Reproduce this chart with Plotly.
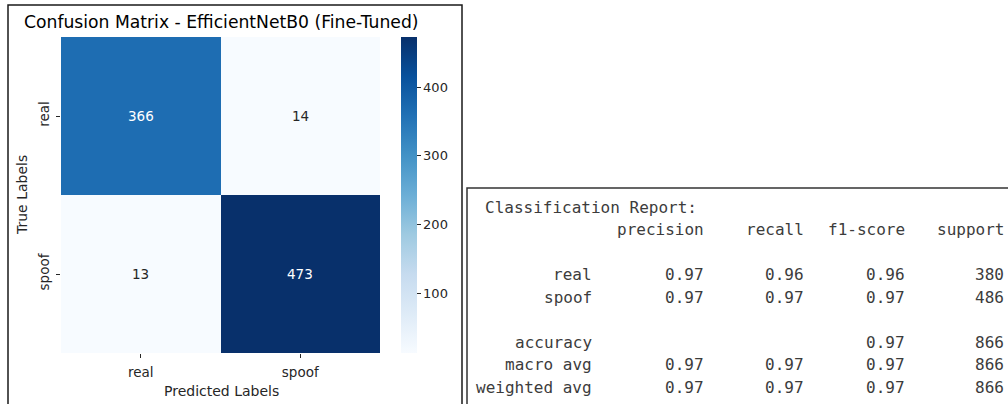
import plotly.graph_objects as go

# ---------------- data ----------------
classes = ["real", "spoof"]
cm_real_row = [366, 14]
cm_spoof_row = [13, 473]
cbar_ticks = [100, 200, 300, 400]

report_title = "Classification Report:"
report_headers = ["precision", "recall", "f1-score", "support"]
report_rows = ["real", "spoof", "accuracy", "macro avg", "weighted avg"]
precision = [0.97, 0.97, None, 0.97, 0.97]
recall = [0.96, 0.97, None, 0.97, 0.97]
f1_score = [0.96, 0.97, 0.97, 0.97, 0.97]
support = [380, 486, 866, 866, 866]

# ---------------- layout helpers ----------------
W, H = 1008, 404
def px(x):
    return x / W
def py(y):
    return 1 - y / H

blues = [
    [0.0, "#f7fbff"], [0.125, "#deebf7"], [0.25, "#c6dbef"], [0.375, "#9ecae1"],
    [0.5, "#6baed6"], [0.625, "#4292c6"], [0.75, "#2171b5"], [0.875, "#08519c"],
    [1.0, "#08306b"],
]

z = [cm_real_row, cm_spoof_row]
zmin = min(min(r) for r in z)
zmax = max(max(r) for r in z)

FONT = "DejaVu Sans"
MONO = "DejaVu Sans Mono"
TXT = "#262626"

fig = go.Figure()
fig.add_trace(go.Heatmap(
    z=z, x=classes, y=classes,
    colorscale=blues, zmin=zmin, zmax=zmax,
    showscale=True,
    colorbar=dict(
        x=px(401), xanchor="left", xref="paper",
        y=py(353), yanchor="bottom", yref="paper",
        len=(353 - 37) / H, lenmode="fraction",
        thickness=16, thicknessmode="pixels",
        xpad=0, ypad=0,
        outlinewidth=0,
        tickvals=cbar_ticks, ticks="outside", ticklen=4, tickwidth=1, tickcolor=TXT,
        tickfont=dict(family=FONT, size=13, color=TXT),
    ),
    hoverinfo="skip",
))

# cell annotations
for i, row in enumerate(z):
    for j, v in enumerate(row):
        frac = (v - zmin) / (zmax - zmin)
        fig.add_annotation(
            x=classes[j], y=classes[i], xref="x", yref="y",
            text=str(v), showarrow=False,
            font=dict(family=FONT, size=13.5, color="white" if frac > 0.5 else TXT),
        )

fig.update_layout(
    width=W, height=H,
    margin=dict(l=0, r=0, t=0, b=0),
    paper_bgcolor="white", plot_bgcolor="white",
    font=dict(family=FONT, color=TXT),
    xaxis=dict(
        domain=[px(61), px(380)],
        ticks="outside", ticklen=4, tickcolor=TXT, ticklabelstandoff=3,
        tickfont=dict(family=FONT, size=13.5, color=TXT),
        showgrid=False, zeroline=False, showline=False,
    ),
    yaxis=dict(
        domain=[py(353), py(37)],
        autorange="reversed",
        ticks="outside", ticklen=4, tickcolor=TXT, tickangle=-90, ticklabelstandoff=2,
        tickfont=dict(family=FONT, size=13.5, color=TXT),
        showgrid=False, zeroline=False, showline=False,
    ),
    showlegend=False,
)

# axis titles
fig.add_annotation(x=px(221), y=py(391), xref="paper", yref="paper",
                   text="Predicted Labels", showarrow=False,
                   xanchor="center", yanchor="middle",
                   font=dict(family=FONT, size=14, color=TXT))
fig.add_annotation(x=px(22), y=py(195), xref="paper", yref="paper",
                   text="True Labels", showarrow=False, textangle=-90,
                   xanchor="center", yanchor="middle",
                   font=dict(family=FONT, size=14, color=TXT))

# chart title
fig.add_annotation(
    x=px(221), y=py(22), xref="paper", yref="paper",
    text="Confusion Matrix - EfficientNetB0 (Fine-Tuned)", showarrow=False,
    xanchor="center", yanchor="middle",
    font=dict(family=FONT, size=17.2, color="black"),
)

# panel borders
fig.add_shape(type="rect", xref="paper", yref="paper",
              x0=px(8), x1=px(462), y0=py(414), y1=py(5),
              line=dict(color="#1a1a1a", width=1.5), fillcolor="rgba(0,0,0,0)")
fig.add_shape(type="rect", xref="paper", yref="paper",
              x0=px(467), x1=px(1014), y0=py(414), y1=py(188),
              line=dict(color="#333333", width=1.5), fillcolor="rgba(0,0,0,0)")

# classification report text
REP = "#3c3c3c"
rep_font = dict(family=MONO, size=16, color=REP)
col_right = [706, 806, 907, 1006]
label_right = 594
title_y = 207
header_y = 229.5
row_y = [274.5, 297, 342, 364.5, 387]

fig.add_annotation(x=px(483), y=py(title_y), xref="paper", yref="paper",
                   text=report_title, showarrow=False, xanchor="left", yanchor="middle",
                   font=rep_font)
for h, xr in zip(report_headers, col_right):
    fig.add_annotation(x=px(xr), y=py(header_y), xref="paper", yref="paper",
                       text=h, showarrow=False, xanchor="right", yanchor="middle",
                       font=rep_font)
for k, name in enumerate(report_rows):
    yy = py(row_y[k])
    fig.add_annotation(x=px(label_right), y=yy, xref="paper", yref="paper",
                       text=name, showarrow=False, xanchor="right", yanchor="middle",
                       font=rep_font)
    vals = [precision[k], recall[k], f1_score[k]]
    for v, xr in zip(vals, col_right[:3]):
        if v is None:
            continue
        fig.add_annotation(x=px(xr), y=yy, xref="paper", yref="paper",
                           text=f"{v:.2f}", showarrow=False, xanchor="right", yanchor="middle",
                           font=rep_font)
    fig.add_annotation(x=px(col_right[3]), y=yy, xref="paper", yref="paper",
                       text=str(support[k]), showarrow=False, xanchor="right", yanchor="middle",
                       font=rep_font)

fig.write_html("out.html")
